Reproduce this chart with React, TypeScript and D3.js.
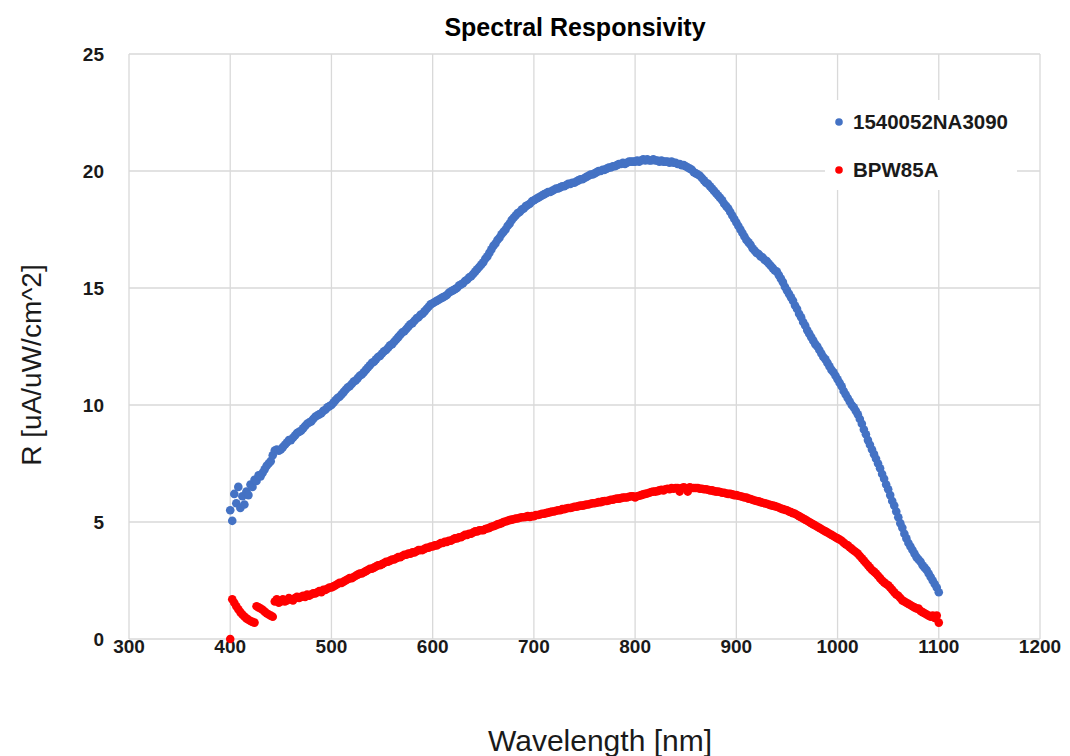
import React from "react";
import * as d3 from "d3";

const title = "Spectral Responsivity";
const xTitle = "Wavelength [nm]";
const yTitle = "R [uA/uW/cm^2]";
const xTicks = [300, 400, 500, 600, 700, 800, 900, 1000, 1100, 1200];
const yTicks = [0, 5, 10, 15, 20, 25];
const seriesNames = ["1540052NA3090", "BPW85A"];
const seriesColors = ["#4472C4", "#FF0000"];

// wavelengths 400..1100 nm, 2 nm step
const wavelengths = d3.range(400, 1101, 2);

const blueValues = [
  5.5, 5.05, 6.2, 5.8, 6.5, 5.6, 6.1, 5.75, 6.3, 6.15, 6.6, 6.5, 6.8, 6.75, 7.0, 6.95, 7.1, 7.25, 7.4, 7.5, 7.6, 7.85, 8.05, 8.1, 8.05,
  8.1, 8.2, 8.3, 8.4, 8.5, 8.5, 8.6, 8.7, 8.8, 8.85, 8.9, 9.0, 9.1, 9.2, 9.25, 9.3, 9.4, 9.5, 9.55, 9.6, 9.65, 9.75, 9.8, 9.9, 9.95,
  10.0, 10.1, 10.2, 10.3, 10.35, 10.45, 10.55, 10.65, 10.75, 10.8, 10.9, 11.0, 11.05, 11.15, 11.25, 11.3, 11.4, 11.5, 11.6, 11.7, 11.8, 11.85, 11.95, 12.05, 12.1,
  12.2, 12.3, 12.35, 12.45, 12.55, 12.6, 12.7, 12.8, 12.9, 13.0, 13.1, 13.15, 13.25, 13.35, 13.45, 13.5, 13.6, 13.7, 13.75, 13.85, 13.9, 14.0, 14.1, 14.2, 14.3,
  14.35, 14.4, 14.45, 14.5, 14.55, 14.6, 14.65, 14.7, 14.8, 14.85, 14.9, 14.95, 15.0, 15.1, 15.15, 15.2, 15.3, 15.35, 15.45, 15.5, 15.6, 15.7, 15.8, 15.9, 16.0,
  16.1, 16.25, 16.35, 16.5, 16.65, 16.8, 16.9, 17.05, 17.15, 17.3, 17.4, 17.5, 17.65, 17.75, 17.9, 18.0, 18.1, 18.2, 18.25, 18.35, 18.4, 18.5, 18.55, 18.6, 18.7,
  18.75, 18.8, 18.85, 18.9, 18.95, 19.0, 19.05, 19.1, 19.1, 19.15, 19.2, 19.25, 19.25, 19.3, 19.35, 19.35, 19.4, 19.45, 19.45, 19.5, 19.5, 19.55, 19.6, 19.65, 19.65,
  19.7, 19.75, 19.8, 19.85, 19.85, 19.9, 19.95, 20.0, 20.0, 20.05, 20.05, 20.1, 20.15, 20.15, 20.2, 20.2, 20.25, 20.3, 20.3, 20.35, 20.3, 20.35, 20.4, 20.4, 20.4,
  20.4, 20.45, 20.4, 20.45, 20.5, 20.45, 20.5, 20.45, 20.45, 20.5, 20.45, 20.45, 20.4, 20.45, 20.4, 20.4, 20.4, 20.35, 20.4, 20.35, 20.35, 20.3, 20.3, 20.25, 20.25,
  20.2, 20.15, 20.1, 20.05, 19.95, 19.9, 19.85, 19.8, 19.7, 19.6, 19.5, 19.45, 19.35, 19.25, 19.15, 19.05, 18.95, 18.85, 18.75, 18.6, 18.5, 18.4, 18.25, 18.1, 17.95,
  17.8, 17.65, 17.5, 17.35, 17.2, 17.05, 16.95, 16.85, 16.7, 16.6, 16.5, 16.45, 16.35, 16.3, 16.2, 16.15, 16.05, 15.95, 15.85, 15.75, 15.7, 15.55, 15.4, 15.25, 15.05,
  14.9, 14.75, 14.6, 14.45, 14.25, 14.1, 13.9, 13.75, 13.55, 13.4, 13.2, 13.05, 12.9, 12.75, 12.6, 12.5, 12.35, 12.2, 12.05, 11.95, 11.8, 11.65, 11.5, 11.4, 11.25,
  11.1, 10.95, 10.8, 10.6, 10.45, 10.3, 10.15, 10.0, 9.9, 9.75, 9.6, 9.4, 9.2, 8.95, 8.75, 8.5, 8.3, 8.1, 7.9, 7.7, 7.5, 7.3, 7.05, 6.85, 6.6,
  6.4, 6.15, 5.9, 5.7, 5.45, 5.2, 4.95, 4.75, 4.5, 4.3, 4.1, 3.95, 3.8, 3.65, 3.5, 3.4, 3.3, 3.15, 3.05, 2.95, 2.8, 2.65, 2.5, 2.35, 2.2, 2.0,
];

const redValues = [
  0, 1.7, 1.55, 1.4, 1.27, 1.15, 1.05, 0.96, 0.88, 0.82, 0.77, 0.73, 0.7, 1.4, 1.35, 1.3, 1.25, 1.17, 1.1, 1.05, 1.0, 0.95, 1.6, 1.7, 1.55,
  1.6, 1.7, 1.6, 1.65, 1.75, 1.7, 1.65, 1.75, 1.8, 1.75, 1.8, 1.85, 1.8, 1.9, 1.85, 1.9, 1.95, 1.95, 2.0, 2.05, 2.0, 2.1, 2.1, 2.15, 2.2,
  2.2, 2.25, 2.3, 2.35, 2.4, 2.4, 2.45, 2.5, 2.55, 2.6, 2.6, 2.65, 2.7, 2.75, 2.8, 2.8, 2.85, 2.9, 2.95, 3.0, 3.0, 3.05, 3.1, 3.15, 3.15,
  3.2, 3.25, 3.3, 3.3, 3.35, 3.4, 3.4, 3.45, 3.5, 3.5, 3.55, 3.6, 3.6, 3.65, 3.65, 3.7, 3.7, 3.75, 3.8, 3.8, 3.8, 3.85, 3.9, 3.9, 3.95,
  3.95, 4.0, 4.0, 4.05, 4.1, 4.1, 4.15, 4.15, 4.2, 4.2, 4.25, 4.3, 4.3, 4.35, 4.35, 4.4, 4.45, 4.45, 4.5, 4.5, 4.55, 4.6, 4.6, 4.65, 4.65,
  4.65, 4.7, 4.72, 4.75, 4.8, 4.82, 4.85, 4.9, 4.92, 4.95, 5.0, 5.02, 5.05, 5.08, 5.1, 5.12, 5.15, 5.15, 5.18, 5.2, 5.2, 5.22, 5.25, 5.22, 5.25,
  5.25, 5.3, 5.3, 5.32, 5.35, 5.35, 5.38, 5.4, 5.42, 5.45, 5.45, 5.48, 5.5, 5.5, 5.55, 5.55, 5.58, 5.6, 5.6, 5.62, 5.65, 5.65, 5.68, 5.7, 5.7,
  5.72, 5.75, 5.75, 5.78, 5.8, 5.8, 5.82, 5.85, 5.85, 5.88, 5.9, 5.9, 5.92, 5.95, 5.95, 5.98, 6.0, 6.0, 6.02, 6.05, 6.05, 6.05, 6.08, 6.1, 6.1,
  6.05, 6.1, 6.12, 6.15, 6.18, 6.2, 6.22, 6.25, 6.28, 6.3, 6.3, 6.32, 6.35, 6.38, 6.35, 6.4, 6.42, 6.4, 6.45, 6.42, 6.45, 6.45, 6.3, 6.45, 6.48,
  6.45, 6.3, 6.48, 6.45, 6.45, 6.45, 6.45, 6.42, 6.42, 6.4, 6.4, 6.38, 6.35, 6.35, 6.32, 6.3, 6.3, 6.28, 6.25, 6.25, 6.22, 6.2, 6.2, 6.18, 6.15,
  6.15, 6.12, 6.1, 6.08, 6.05, 6.05, 6.0, 5.98, 5.95, 5.92, 5.9, 5.88, 5.85, 5.82, 5.8, 5.78, 5.75, 5.72, 5.7, 5.68, 5.65, 5.62, 5.58, 5.55, 5.52,
  5.5, 5.45, 5.42, 5.38, 5.35, 5.3, 5.25, 5.2, 5.15, 5.1, 5.05, 5.0, 4.95, 4.9, 4.85, 4.8, 4.75, 4.7, 4.65, 4.6, 4.55, 4.5, 4.45, 4.4, 4.35,
  4.3, 4.25, 4.2, 4.12, 4.05, 4.0, 3.92, 3.85, 3.78, 3.72, 3.65, 3.55, 3.45, 3.35, 3.25, 3.15, 3.05, 2.95, 2.88, 2.8, 2.7, 2.6, 2.5, 2.42, 2.35,
  2.3, 2.2, 2.1, 2.0, 1.9, 1.85, 1.75, 1.65, 1.6, 1.55, 1.5, 1.45, 1.4, 1.35, 1.3, 1.3, 1.2, 1.15, 1.1, 1.05, 1.0, 0.95, 1.0, 0.9, 1.0, 0.7,
];

const W = 1070;
const H = 756;
const left = 129;
const right = 1040;
const top = 54;
const bottom = 639;

export default function App() {
  const x = d3.scaleLinear().domain([300, 1200]).range([left, right]);
  const y = d3.scaleLinear().domain([0, 25]).range([bottom, top]);
  const series = [blueValues, redValues];
  const font = "'Liberation Sans', Arial, sans-serif";
  const gridColor = "#d9d9d9";
  const textColor = "#1a1a1a";

  return (
    <svg width={W} height={H} style={{ position: "absolute", left: 0, top: 0, background: "#fff" }}>
      <rect x={0} y={0} width={W} height={H} fill="#fff" />
      {/* grid */}
      {yTicks.map((t) => (
        <line key={"gy" + t} x1={left} x2={right} y1={y(t)} y2={y(t)} stroke={gridColor} strokeWidth={1.3} />
      ))}
      {xTicks.map((t) => (
        <line key={"gx" + t} x1={x(t)} x2={x(t)} y1={top} y2={bottom} stroke={gridColor} strokeWidth={1.3} />
      ))}
      {/* legend background */}
      <rect x={825} y={100} width={192} height={90} fill="#fff" />
      {/* tick labels */}
      {xTicks.map((t) => (
        <text key={"tx" + t} x={x(t)} y={653} textAnchor="middle" fontFamily={font} fontWeight="bold" fontSize={19} fill={textColor}>
          {t}
        </text>
      ))}
      {yTicks.map((t) => (
        <text key={"ty" + t} x={104} y={y(t) + 7} textAnchor="end" fontFamily={font} fontWeight="bold" fontSize={19} fill={textColor}>
          {t}
        </text>
      ))}
      {/* points */}
      {series.map((vals, si) => (
        <g key={"s" + si} fill={seriesColors[si]}>
          {vals.map((v, i) =>
            v == null ? null : <circle key={i} cx={x(wavelengths[i])} cy={y(v)} r={4.3} />
          )}
        </g>
      ))}
      {/* legend */}
      {seriesNames.map((n, i) => (
        <g key={"l" + i}>
          <circle cx={839} cy={122 + i * 48} r={3.8} fill={seriesColors[i]} />
          <text x={853} y={129 + i * 48} fontFamily={font} fontWeight="bold" fontSize={20.5} fill={textColor}>
            {n}
          </text>
        </g>
      ))}
      {/* titles */}
      <text x={575} y={36} textAnchor="middle" fontFamily={font} fontWeight="bold" fontSize={25} fill="#000">
        {title}
      </text>
      <text x={600} y={751} textAnchor="middle" fontFamily={font} fontSize={30} fill={textColor}>
        {xTitle}
      </text>
      <text
        transform={`translate(41, ${365}) rotate(-90)`}
        textAnchor="middle"
        fontFamily={font}
        fontSize={28}
        fill={textColor}
      >
        {yTitle}
      </text>
    </svg>
  );
}
